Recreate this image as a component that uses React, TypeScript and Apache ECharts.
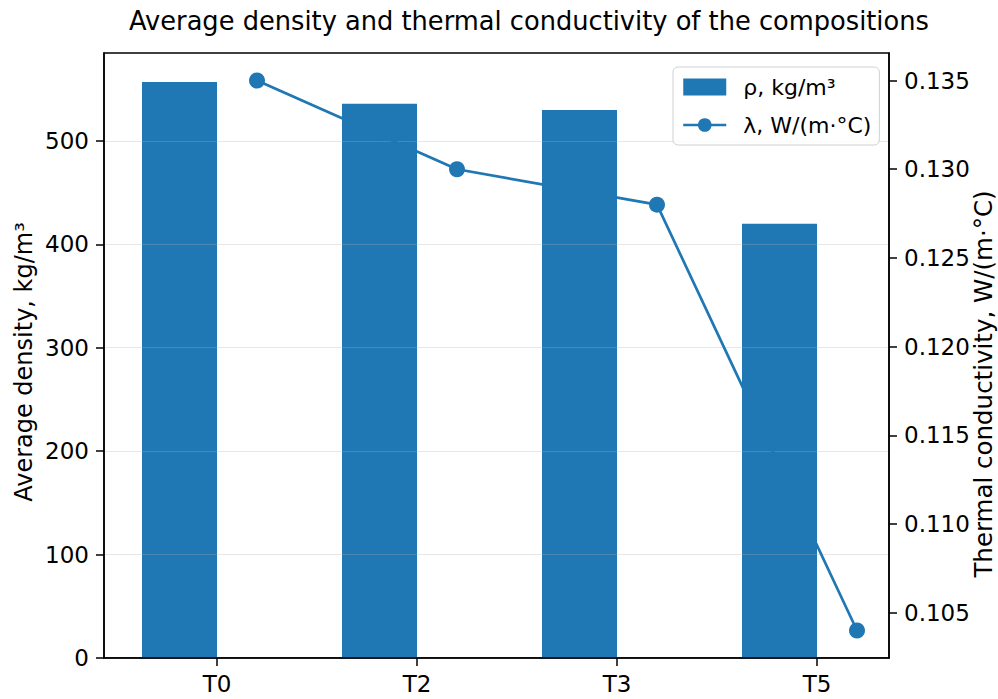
import React, { useEffect, useRef } from "react";
import * as echarts from "echarts";

const categories = ["T0", "T2", "T3", "T5"];
const density = [557, 536, 530, 420];
const conductivity = [0.135, 0.13, 0.128, 0.104];
const densityTicks = [0, 100, 200, 300, 400, 500];
const conductivityTicks = [0.105, 0.11, 0.115, 0.12, 0.125, 0.13, 0.135];
const categoryTicks = [0, 1, 2, 3];

const densityName = "ρ, kg/m³";
const conductivityName = "λ, W/(m·°C)";

// layout constants (axis units)
const BAR_SHIFT = 0.1875;
const LINE_SHIFT = 0.2;
const FONT = "DejaVu Sans";
const BLUE = "#1f77b4";

export default function App() {
  const ref = useRef<HTMLDivElement>(null);
  useEffect(() => {
    document.body.style.margin = "0";
    const chart = echarts.init(ref.current!, null, { renderer: "svg" });
    chart.setOption({
      animation: false,
      backgroundColor: "#fff",
      title: {
        text: "Average density and thermal conductivity of the compositions",
        left: 129,
        top: 8,
        padding: 0,
        textStyle: { fontSize: 25.7, fontWeight: "normal", color: "#000", fontFamily: FONT },
      },
      grid: {
        left: 104,
        right: 109,
        top: 53,
        bottom: 41,
        show: true,
        borderColor: "#000",
        borderWidth: 1.5,
        backgroundColor: "transparent",
      },
      legend: {
        orient: "vertical",
        left: 673,
        top: 67,
        padding: [9, 8, 9, 9],
        itemWidth: 43,
        itemHeight: 17,
        itemGap: 16,
        borderColor: "#d0d0d0",
        borderWidth: 1,
        borderRadius: 5,
        backgroundColor: "rgba(255,255,255,0.8)",
        lineStyle: { width: 2.5 },
        textStyle: { fontSize: 22, color: "#000", fontFamily: FONT, padding: [0, 0, 0, 12] },
        data: [{ name: densityName, icon: "rect" }, { name: conductivityName }],
      },
      xAxis: {
        type: "value",
        min: -0.565,
        max: 3.36,
        z: 3,
        axisLine: { show: true, onZero: false, lineStyle: { color: "#000", width: 1.5 } },
        axisTick: { show: true, customValues: categoryTicks, length: 8, lineStyle: { color: "#000", width: 1.5 } },
        axisLabel: {
          customValues: categoryTicks,
          formatter: (v: number) => categories[Math.round(v)] ?? "",
          fontSize: 23,
          color: "#000",
          fontFamily: FONT,
          margin: 14,
        },
        splitLine: { show: false },
      },
      yAxis: [
        {
          type: "value",
          position: "left",
          min: 0,
          max: 585,
          interval: 100,
          z: 3,
          axisLine: { show: true, onZero: false, lineStyle: { color: "#000", width: 1.5 } },
          axisTick: { show: true, customValues: densityTicks, length: 8, lineStyle: { color: "#000", width: 1.5 } },
          axisLabel: { customValues: densityTicks, fontSize: 23, color: "#000", fontFamily: FONT, margin: 15 },
          splitLine: { show: true, lineStyle: { color: "rgba(176,176,176,0.3)", width: 1 } },
        },
        {
          type: "value",
          position: "right",
          min: 0.10245,
          max: 0.13655,
          z: 3,
          axisLine: { show: true, onZero: false, lineStyle: { color: "#000", width: 1.5 } },
          axisTick: { show: true, customValues: conductivityTicks, length: 8, lineStyle: { color: "#000", width: 1.5 } },
          axisLabel: {
            customValues: conductivityTicks,
            formatter: (v: number) => v.toFixed(3),
            fontSize: 23,
            color: "#000",
            fontFamily: FONT,
            margin: 15,
          },
          splitLine: { show: false },
        },
      ],
      series: [
        {
          type: "bar",
          name: densityName,
          data: density.map((v, i) => [i - BAR_SHIFT, v]),
          barWidth: 75,
          itemStyle: { color: BLUE },
          z: 2,
        },
        {
          type: "line",
          name: conductivityName,
          yAxisIndex: 1,
          data: conductivity.map((v, i) => [i + LINE_SHIFT, v]),
          symbol: "circle",
          symbolSize: 16,
          lineStyle: { width: 2.7, color: BLUE },
          itemStyle: { color: BLUE },
          z: 4,
        },
      ],
      graphic: [
        {
          type: "text",
          x: 24,
          y: 362,
          rotation: Math.PI / 2,
          style: {
            text: "Average density, kg/m³",
            fontSize: 24,
            fontFamily: FONT,
            fill: "#000",
            align: "center",
            verticalAlign: "middle",
          },
        },
        {
          type: "text",
          x: 983,
          y: 384,
          rotation: Math.PI / 2,
          style: {
            text: "Thermal conductivity, W/(m·°C)",
            fontSize: 24.5,
            fontFamily: FONT,
            fill: "#000",
            align: "center",
            verticalAlign: "middle",
          },
        },
      ],
    });
    return () => chart.dispose();
  }, []);
  return <div ref={ref} style={{ width: 998, height: 699 }} />;
}
